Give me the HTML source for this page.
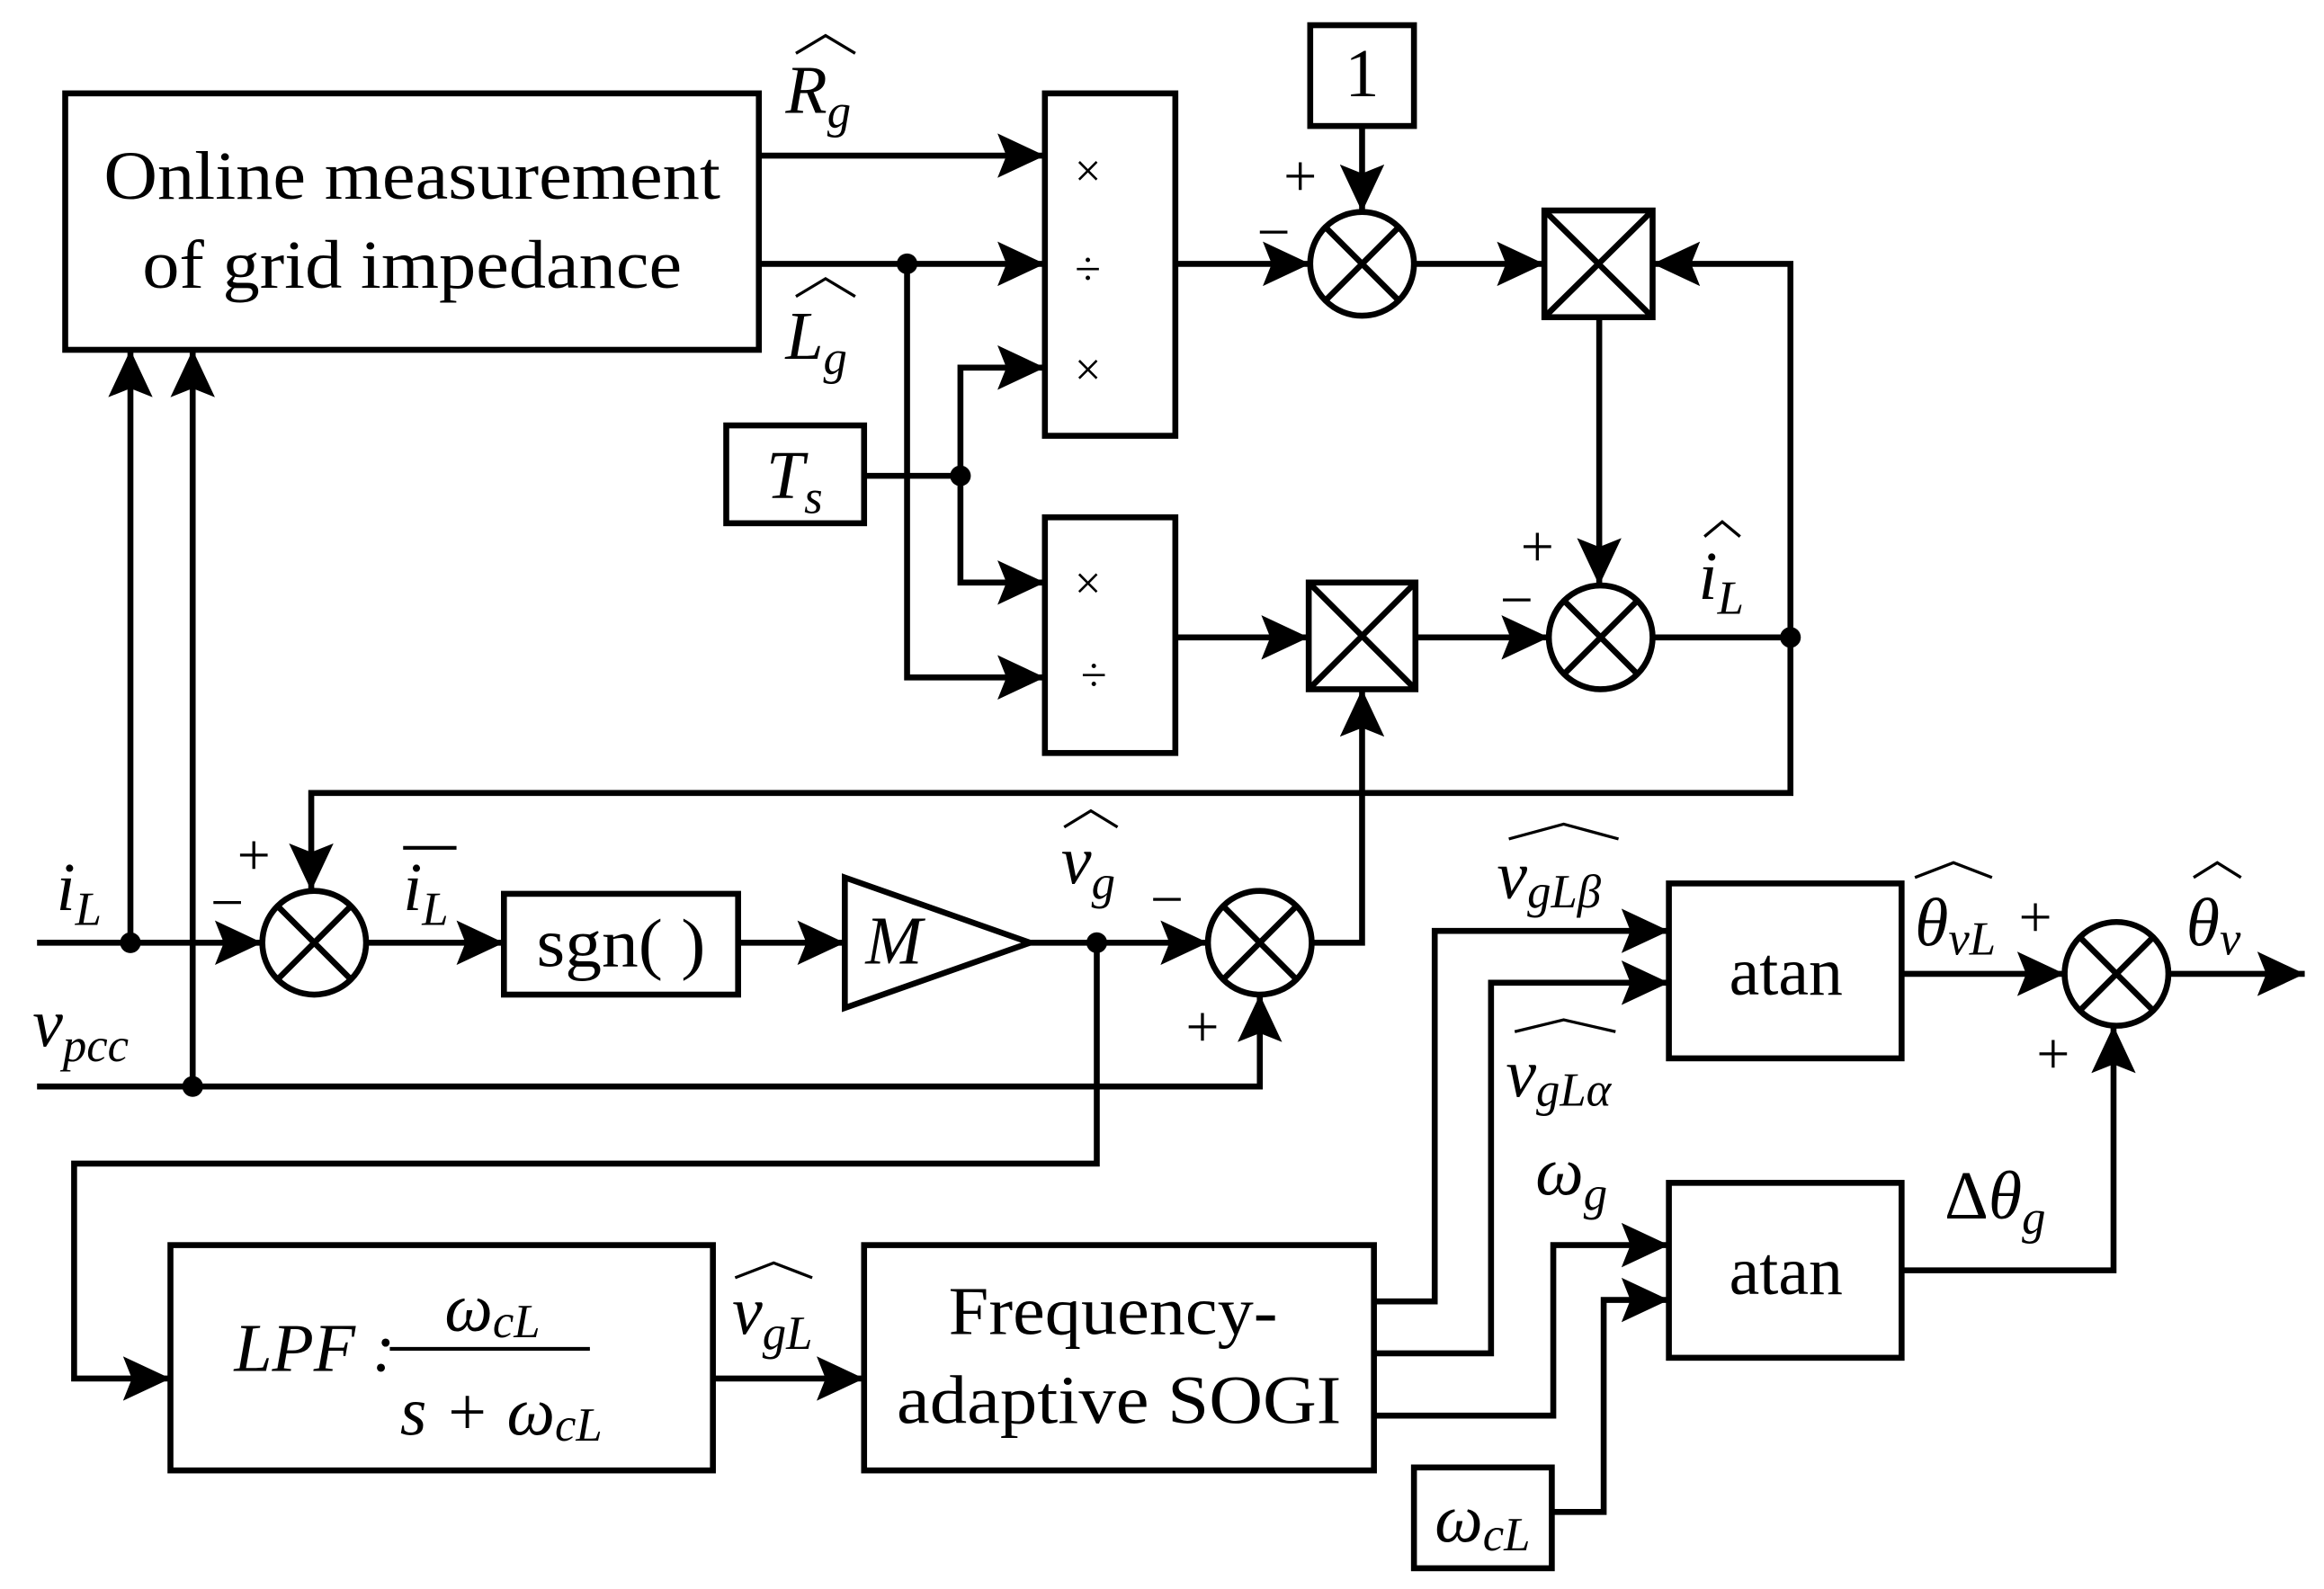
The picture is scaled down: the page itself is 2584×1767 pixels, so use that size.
<!DOCTYPE html>
<html><head><meta charset="utf-8"><style>
html,body{margin:0;padding:0;background:#fff}
svg{display:block}
text{font-family:"Liberation Serif",serif;fill:#000}
.i{font-style:italic}
</style></head><body>
<svg width="2584" height="1767" viewBox="0 0 1568 1072" preserveAspectRatio="none" xmlns="http://www.w3.org/2000/svg">
<defs>
<marker id="a" viewBox="0 0 32 30" refX="32" refY="15" markerWidth="32" markerHeight="30" markerUnits="userSpaceOnUse" orient="auto"><path d="M0,0 L32,15 L0,30 L6,15 Z" fill="#000"/></marker>
</defs>
<g fill="none" stroke="#000" stroke-width="4">
<rect x="44" y="63" width="468" height="173"/>
<rect x="705" y="63" width="88" height="231"/>
<rect x="705" y="349" width="88" height="159"/>
<rect x="490" y="287" width="93" height="66"/>
<rect x="884" y="17" width="70" height="68"/>
<rect x="1042" y="142" width="73" height="72"/>
<path d="M1042,142 L1115,214 M1115,142 L1042,214"/>
<rect x="883" y="393" width="72" height="72"/>
<path d="M883,393 L955,465 M955,393 L883,465"/>
<rect x="340" y="603" width="158" height="68"/>
<path d="M570,592 L695,636 L570,680 Z"/>
<rect x="115" y="840" width="366" height="152"/>
<rect x="583" y="840" width="344" height="152"/>
<rect x="1126" y="596" width="157" height="118"/>
<rect x="1126" y="798" width="157" height="118"/>
<rect x="954" y="990" width="93" height="68"/>
<circle cx="919" cy="178" r="35"/><path d="M894,153 L944,203 M944,153 L894,203"/>
<circle cx="1080" cy="430" r="35"/><path d="M1055,405 L1105,455 M1105,405 L1055,455"/>
<circle cx="212" cy="636" r="35"/><path d="M187,611 L237,661 M237,611 L187,661"/>
<circle cx="850" cy="636" r="35"/><path d="M825,611 L875,661 M875,611 L825,661"/>
<circle cx="1428" cy="657" r="35"/><path d="M1403,632 L1453,682 M1453,632 L1403,682"/>
<path d="M512,105 L705,105" marker-end="url(#a)"/>
<path d="M512,178 L705,178" marker-end="url(#a)"/>
<path d="M612,178 L612,457 L705,457" marker-end="url(#a)"/>
<path d="M583,321 L648,321"/>
<path d="M648,321 L648,248 L705,248" marker-end="url(#a)"/>
<path d="M648,321 L648,393 L705,393" marker-end="url(#a)"/>
<path d="M793,178 L884,178" marker-end="url(#a)"/>
<path d="M919,85 L919,143" marker-end="url(#a)"/>
<path d="M954,178 L1042,178" marker-end="url(#a)"/>
<path d="M1208,430 L1208,178 L1115,178" marker-end="url(#a)"/>
<path d="M1079,214 L1079,395" marker-end="url(#a)"/>
<path d="M793,430 L883,430" marker-end="url(#a)"/>
<path d="M955,430 L1045,430" marker-end="url(#a)"/>
<path d="M1115,430 L1208,430 L1208,535 L210,535 L210,601" marker-end="url(#a)"/>
<path d="M25,636 L177,636" marker-end="url(#a)"/>
<path d="M88,636 L88,236" marker-end="url(#a)"/>
<path d="M25,733 L850,733 L850,671" marker-end="url(#a)"/>
<path d="M130,733 L130,236" marker-end="url(#a)"/>
<path d="M247,636 L340,636" marker-end="url(#a)"/>
<path d="M498,636 L570,636" marker-end="url(#a)"/>
<path d="M695,636 L815,636" marker-end="url(#a)"/>
<path d="M885,636 L919,636 L919,465" marker-end="url(#a)"/>
<path d="M740,636 L740,785 L50,785 L50,930 L115,930" marker-end="url(#a)"/>
<path d="M481,930 L583,930" marker-end="url(#a)"/>
<path d="M927,878 L968,878 L968,628 L1126,628" marker-end="url(#a)"/>
<path d="M927,913 L1006,913 L1006,663 L1126,663" marker-end="url(#a)"/>
<path d="M927,955 L1048,955 L1048,840 L1126,840" marker-end="url(#a)"/>
<path d="M1047,1020 L1082,1020 L1082,877 L1126,877" marker-end="url(#a)"/>
<path d="M1283,657 L1393,657" marker-end="url(#a)"/>
<path d="M1463,657 L1555,657" marker-end="url(#a)"/>
<path d="M1283,857 L1426,857 L1426,692" marker-end="url(#a)"/>
<path d="M263,910 L398,910" stroke-width="2.5"/>
<path d="M537,36 L557,24 L577,36" stroke-width="2"/>
<path d="M537,200 L557,188 L577,200" stroke-width="2"/>
<path d="M1150,362 L1162,352 L1174,362" stroke-width="2"/>
<path d="M272,572 L308,572" stroke-width="2.5"/>
<path d="M718,558 L736,547 L754,558" stroke-width="2"/>
<path d="M496,862 L522,852 L548,862" stroke-width="2"/>
<path d="M1018,566 L1055,556 L1092,566" stroke-width="2"/>
<path d="M1022,696 L1055,688 L1090,696" stroke-width="2"/>
<path d="M1292,592 L1318,582 L1344,592" stroke-width="2"/>
<path d="M1480,592 L1496,582 L1512,592" stroke-width="2"/>
</g>
<g fill="#000">
<circle cx="612" cy="178" r="7"/><circle cx="648" cy="321" r="7"/><circle cx="1208" cy="430" r="7"/>
<circle cx="88" cy="636" r="7"/><circle cx="130" cy="733" r="7"/><circle cx="740" cy="636" r="7"/>
</g>
<g font-size="46">
<text x="70" y="134" textLength="416" lengthAdjust="spacingAndGlyphs">Online measurement</text>
<text x="96" y="194" textLength="364" lengthAdjust="spacingAndGlyphs">of grid impedance</text>
<text x="362" y="652" textLength="114" lengthAdjust="spacingAndGlyphs">sgn( )</text>
<text x="640" y="900" textLength="222" lengthAdjust="spacingAndGlyphs">Frequency-</text>
<text x="605" y="960" textLength="300" lengthAdjust="spacingAndGlyphs">adaptive SOGI</text>
<text x="1205" y="671" text-anchor="middle">atan</text>
<text x="1205" y="873" text-anchor="middle">atan</text>
<text x="919" y="65" text-anchor="middle">1</text>
</g>
<g font-size="32">
<text x="734" y="126" text-anchor="middle">×</text>
<text x="734" y="192" text-anchor="middle">÷</text>
<text x="734" y="260" text-anchor="middle">×</text>
<text x="734" y="404" text-anchor="middle">×</text>
<text x="738" y="466" text-anchor="middle">÷</text>
</g>
<g font-size="40">
<text x="866" y="132">+</text><text x="848" y="170">−</text>
<text x="1026" y="382">+</text><text x="1012" y="418">−</text>
<text x="160" y="590">+</text><text x="142" y="622">−</text>
<text x="776" y="620">−</text><text x="800" y="706">+</text>
<text x="1362" y="632">+</text><text x="1374" y="724">+</text>
</g>
<g font-size="46" class="i">
<text x="530" y="76" class="i">R<tspan font-size="32" dy="10">g</tspan></text>
<text x="530" y="242" class="i">L<tspan font-size="32" dy="10">g</tspan></text>
<text x="517" y="336" class="i">T<tspan font-size="32" dy="10">s</tspan></text>
<text x="1146" y="404" class="i">i<tspan font-size="32" dy="10">L</tspan></text>
<text x="38" y="614" class="i">i<tspan font-size="32" dy="10">L</tspan></text>
<text x="272" y="614" class="i">i<tspan font-size="32" dy="10">L</tspan></text>
<text x="584" y="650" class="i">M</text>
<text x="716" y="596" class="i">v<tspan font-size="32" dy="10">g</tspan></text>
<text x="22" y="706" class="i">v<tspan font-size="32" dy="10">pcc</tspan></text>
<text x="494" y="900" class="i">v<tspan font-size="32" dy="10">gL</tspan></text>
<text x="158" y="925" class="i">LPF :</text>
<text x="300" y="898" class="i">ω<tspan font-size="32" dy="4">cL</tspan></text>
<text x="270" y="968" class="i">s + ω<tspan font-size="32" dy="4">cL</tspan></text>
<text x="1010" y="606" class="i">v<tspan font-size="32" dy="6">gLβ</tspan></text>
<text x="1016" y="740" class="i">v<tspan font-size="32" dy="6">gLα</tspan></text>
<text x="1036" y="806" class="i">ω<tspan font-size="32" dy="10">g</tspan></text>
<text x="1312" y="822"><tspan font-style="normal">Δ</tspan>θ<tspan font-size="32" dy="10">g</tspan></text>
<text x="1292" y="638" class="i">θ<tspan font-size="32" dy="6">vL</tspan></text>
<text x="1475" y="638" class="i">θ<tspan font-size="32" dy="6">v</tspan></text>
<text x="968" y="1040" class="i">ω<tspan font-size="32" dy="6">cL</tspan></text>
</g>
</svg>
</body></html>
